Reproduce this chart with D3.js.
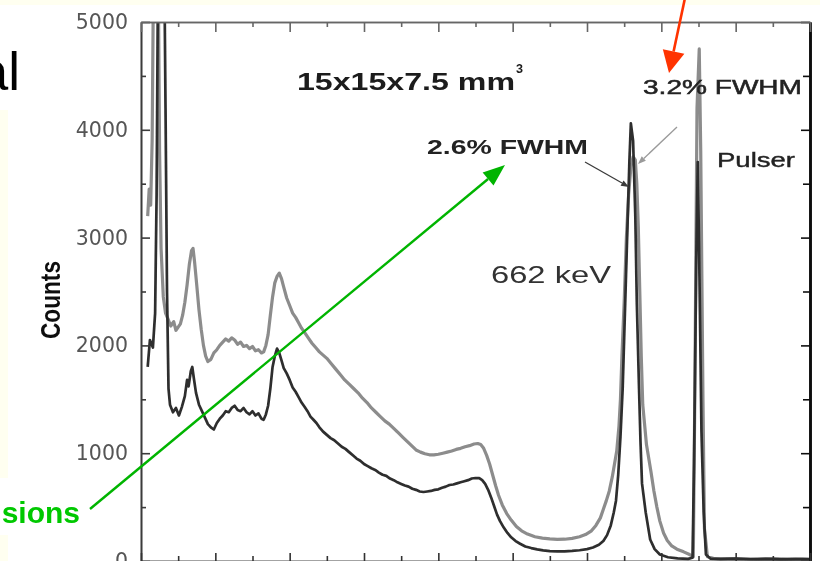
<!DOCTYPE html>
<html>
<head>
<meta charset="utf-8">
<script src="https://cdn.jsdelivr.net/npm/d3@7/dist/d3.min.js"></script>
<style>
  html, body { margin: 0; padding: 0; background: #fffff0; }
  svg { display: block; }
</style>
</head>
<body>
<svg id="chart" width="820" height="561"></svg>
<script>
// Cs-137 spectra of a 15x15x7.5 mm^3 detector, two readouts (channel, counts)
const blackChannels = [9,12,16,19,21,23,31,33,35,37,39,43,47,51,55,59,62,64,67,69,71,74,78,82,86,90,94,98,102,106,110,114,118,122,126,130,134,138,142,146,150,154,158,162,165,168,171,174,177,180,183,186,189,192,196,200,204,208,212,216,220,224,228,232,236,240,245,250,255,260,265,270,275,280,285,290,295,300,305,310,315,320,325,330,335,340,345,350,355,360,365,370,375,380,385,390,395,400,405,410,415,420,425,430,435,440,445,450,455,459,463,467,471,475,479,483,488,493,498,504,510,517,525,533,541,550,560,570,580,590,600,608,616,622,627,632,636,639,642,645,648,651,654,657,659,662,665,667,670,672,674,679,685,691,698,709,722,736,742,744,747,749,751,754,757,760,766,780,800,820,840,860,880,900];
const blackCounts = [1800,2050,1980,2300,3400,5600,5800,4200,2500,1600,1450,1380,1420,1350,1430,1530,1680,1620,1760,1800,1700,1560,1450,1390,1330,1270,1240,1220,1280,1320,1350,1390,1380,1420,1440,1400,1390,1420,1380,1360,1390,1350,1370,1320,1310,1360,1440,1600,1800,1900,1970,1930,1860,1790,1740,1680,1610,1570,1520,1470,1430,1390,1340,1310,1280,1240,1200,1170,1140,1120,1090,1060,1040,1010,980,950,930,900,880,860,845,820,800,790,765,750,730,715,700,690,670,660,645,640,645,650,660,665,680,690,705,710,720,730,740,750,765,770,768,750,715,660,590,510,430,370,310,260,220,185,160,135,120,108,98,92,90,90,94,100,110,125,150,185,240,330,450,560,800,1150,1600,2300,3000,3700,4060,3900,3200,2400,1600,1100,720,450,200,110,60,35,25,20,30,900,2800,3700,2800,1200,450,60,22,18,22,16,20,15,18,16];

const grayChannels = [9,11,13,15,17,23,25,27,30,33,36,40,44,47,50,53,56,59,62,65,68,70,72,75,78,81,84,87,90,94,98,102,106,110,114,118,122,126,130,134,138,142,146,150,154,158,162,165,168,171,174,177,180,183,186,189,192,196,200,204,208,212,216,220,225,230,235,240,245,250,256,262,268,274,280,286,292,298,304,310,316,322,328,334,340,346,352,358,364,370,376,382,388,394,400,406,412,418,424,430,436,442,448,453,457,461,465,469,473,477,481,486,492,498,505,512,520,530,540,550,560,570,580,590,598,606,612,618,622,626,630,634,637,640,643,645,647,650,653,656,659,662,665,667,669,671,673,675,680,686,690,694,698,703,708,714,721,730,738,743,745,748,751,753,756,758,762,770,790,810,830,850,870,890,900];
const grayCounts = [3200,3450,3300,3900,5600,5600,3800,2900,2450,2300,2250,2180,2220,2140,2170,2200,2280,2400,2560,2750,2880,2900,2780,2560,2330,2150,2000,1900,1850,1870,1930,1960,2000,2030,2060,2040,2070,2050,2010,2030,1990,2000,1970,1990,1950,1960,1930,1940,2000,2100,2280,2450,2580,2640,2670,2620,2540,2440,2370,2300,2260,2210,2160,2120,2070,2020,1980,1940,1910,1880,1830,1780,1730,1680,1640,1600,1560,1510,1470,1420,1380,1340,1300,1270,1230,1190,1150,1110,1070,1030,1010,995,985,985,990,1000,1010,1020,1035,1045,1060,1070,1085,1090,1080,1045,980,900,800,700,610,520,440,380,320,280,250,225,212,205,200,202,210,225,245,280,330,400,480,560,650,780,900,1020,1250,1500,1900,2400,3000,3400,3650,3750,3720,3500,3100,2500,1900,1450,1080,830,650,500,370,260,190,140,110,85,60,40,1500,4200,4750,3800,1500,300,40,25,22,20,18,22,17,20,18];

const yMajorTicks = [0, 1000, 2000, 3000, 4000, 5000];
const yMinorTicks = [500, 1500, 2500, 3500, 4500];
const xMajorTicks = [0, 100, 200, 300, 400, 500, 600, 700, 800, 900];
const xMinorTicks = [50, 150, 250, 350, 450, 550, 650, 750, 850];

const svg = d3.select("#chart");
const W = 820, H = 561;
const plot = { left: 141, right: 810, top: 22, bottom: 561 };

const x = d3.scaleLinear().domain([0, 900]).range([plot.left, plot.right]);
const y = d3.scaleLinear().domain([0, 5000]).range([plot.bottom, plot.top]);

// page background and the white figure panel
svg.append("rect").attr("width", W).attr("height", H).attr("fill", "#fffff0");
svg.append("rect").attr("x", 8).attr("y", 5).attr("width", W - 8).attr("height", H - 5).attr("fill", "#ffffff");
svg.append("rect").attr("x", 0).attr("y", 5).attr("width", 30).attr("height", 105).attr("fill", "#ffffff");
svg.append("rect").attr("x", 0).attr("y", 478).attr("width", 100).attr("height", 57).attr("fill", "#ffffff");

const defs = svg.append("defs");
defs.append("clipPath").attr("id", "plotClip")
  .append("rect").attr("x", plot.left).attr("y", plot.top)
  .attr("width", plot.right - plot.left).attr("height", plot.bottom - plot.top);
defs.append("filter").attr("id", "soft").attr("x", "-5%").attr("y", "-5%").attr("width", "110%").attr("height", "110%")
  .append("feGaussianBlur").attr("stdDeviation", 0.75);

const fig = svg.append("g").attr("filter", "url(#soft)");

// spectra
const line = d3.line().x(d => x(d[0])).y(d => y(d[1]));
const graySeries = d3.zip(grayChannels, grayCounts);
const blackSeries = d3.zip(blackChannels, blackCounts);
const series = fig.append("g").attr("clip-path", "url(#plotClip)");
series.append("path").datum(graySeries).attr("d", line)
  .attr("fill", "none").attr("stroke", "#8c8c8c").attr("stroke-width", 3.2).attr("stroke-linejoin", "round");
series.append("path").datum(blackSeries).attr("d", line)
  .attr("fill", "none").attr("stroke", "#2e2e2e").attr("stroke-width", 2.7).attr("stroke-linejoin", "round");

// axes with inward ticks
function styleAxis(g, color, width) {
  g.select(".domain").attr("stroke", color).attr("stroke-width", width);
  g.selectAll(".tick line").attr("stroke", color).attr("stroke-width", 1.6);
}
const leftAxis = fig.append("g").attr("transform", `translate(${plot.left},0)`)
  .call(d3.axisLeft(y).tickValues(yMajorTicks).tickSize(-9).tickSizeOuter(0).tickPadding(13).tickFormat(d3.format("d")));
styleAxis(leftAxis, "#3a3a3a", 1.6);
leftAxis.selectAll(".tick text").attr("font-family", "DejaVu Sans, sans-serif").attr("font-size", 20.5).attr("fill", "#555");
const leftMinor = fig.append("g").attr("transform", `translate(${plot.left},0)`)
  .call(d3.axisLeft(y).tickValues(yMinorTicks).tickSize(-5).tickSizeOuter(0).tickFormat(""));
styleAxis(leftMinor, "#3a3a3a", 1.6);

const rightAxis = fig.append("g").attr("transform", `translate(${plot.right},0)`)
  .call(d3.axisRight(y).tickValues(yMajorTicks).tickSize(-9).tickSizeOuter(0).tickFormat(""));
styleAxis(rightAxis, "#111", 2.6);
const rightMinor = fig.append("g").attr("transform", `translate(${plot.right},0)`)
  .call(d3.axisRight(y).tickValues(yMinorTicks).tickSize(-7).tickSizeOuter(0).tickFormat(""));
styleAxis(rightMinor, "#111", 2.6);

const topAxis = fig.append("g").attr("transform", `translate(0,${plot.top})`)
  .call(d3.axisTop(x).tickValues(xMajorTicks).tickSize(-10).tickSizeOuter(0).tickFormat(""));
styleAxis(topAxis, "#666", 1.4);
const topMinor = fig.append("g").attr("transform", `translate(0,${plot.top})`)
  .call(d3.axisTop(x).tickValues(xMinorTicks).tickSize(-5).tickSizeOuter(0).tickFormat(""));
styleAxis(topMinor, "#666", 1.4);

const bottomAxis = fig.append("g").attr("transform", `translate(0,${plot.bottom})`)
  .call(d3.axisBottom(x).tickValues(xMajorTicks).tickSize(-8).tickSizeOuter(0).tickFormat(""));
styleAxis(bottomAxis, "#333", 1.6);
const bottomMinor = fig.append("g").attr("transform", `translate(0,${plot.bottom})`)
  .call(d3.axisBottom(x).tickValues(xMinorTicks).tickSize(-5).tickSizeOuter(0).tickFormat(""));
styleAxis(bottomMinor, "#333", 1.6);

// axis title
fig.append("text").attr("transform", "translate(60,300) rotate(-90)")
  .attr("text-anchor", "middle").attr("font-family", "Liberation Sans, Arial, sans-serif")
  .attr("font-weight", "bold").attr("font-size", 28).attr("fill", "#111")
  .attr("textLength", 78).attr("lengthAdjust", "spacingAndGlyphs").text("Counts");

// figure annotations
const sans = "Liberation Sans, Arial, sans-serif";
function label(txt, px, py, size, weight, len, color) {
  return fig.append("text").attr("x", px).attr("y", py).attr("font-family", sans)
    .attr("font-size", size).attr("font-weight", weight).attr("fill", color || "#222")
    .attr("textLength", len).attr("lengthAdjust", "spacingAndGlyphs").text(txt);
}
label("15x15x7.5 mm", 297, 90, 23, "bold", 218, "#1a1a1a");
label("3", 516, 73, 13, "bold", 7, "#1a1a1a");
label("2.6% FWHM", 427, 154, 19.5, "bold", 161, "#222");
label("3.2% FWHM", 643, 94, 20, "normal", 159, "#222").attr("stroke", "#222").attr("stroke-width", 0.5);
label("Pulser", 717, 167, 20, "normal", 78, "#222").attr("stroke", "#222").attr("stroke-width", 0.4);
label("662 keV", 491, 283, 24, "normal", 120, "#333");

function arrow(g, x1, y1, x2, y2, color, width, headLen, headWidth) {
  const dx = x2 - x1, dy = y2 - y1, len = Math.hypot(dx, dy);
  const ux = dx / len, uy = dy / len;
  const bx = x2 - ux * headLen, by = y2 - uy * headLen;
  g.append("line").attr("x1", x1).attr("y1", y1).attr("x2", bx).attr("y2", by)
    .attr("stroke", color).attr("stroke-width", width);
  g.append("polygon").attr("fill", color).attr("points", [
    [x2, y2],
    [bx - uy * headWidth / 2, by + ux * headWidth / 2],
    [bx + uy * headWidth / 2, by - ux * headWidth / 2]
  ].map(p => p.join(",")).join(" "));
}
// peak pointers inside the figure
arrow(fig, 585, 162, 629, 187, "#3a3a3a", 1.3, 8, 6);
arrow(fig, 677, 127, 638, 164, "#9a9a9a", 1.3, 8, 6);

// slide overlay: title fragment, callout text and arrows
svg.append("text").attr("x", 20).attr("y", 90).attr("text-anchor", "end")
  .attr("font-family", sans).attr("font-size", 53)
  .attr("fill", "#000").text("al");
svg.append("text").attr("x", 80).attr("y", 523).attr("text-anchor", "end")
  .attr("font-family", sans).attr("font-weight", "bold").attr("font-size", 30)
  .attr("fill", "#00c800").text("sions");
const overlay = svg.append("g");
arrow(overlay, 90, 509, 505, 165, "#00b400", 2.4, 22, 17);
arrow(overlay, 685, -2, 669, 73, "#ff3300", 2.6, 22, 22);
</script>
</body>
</html>
